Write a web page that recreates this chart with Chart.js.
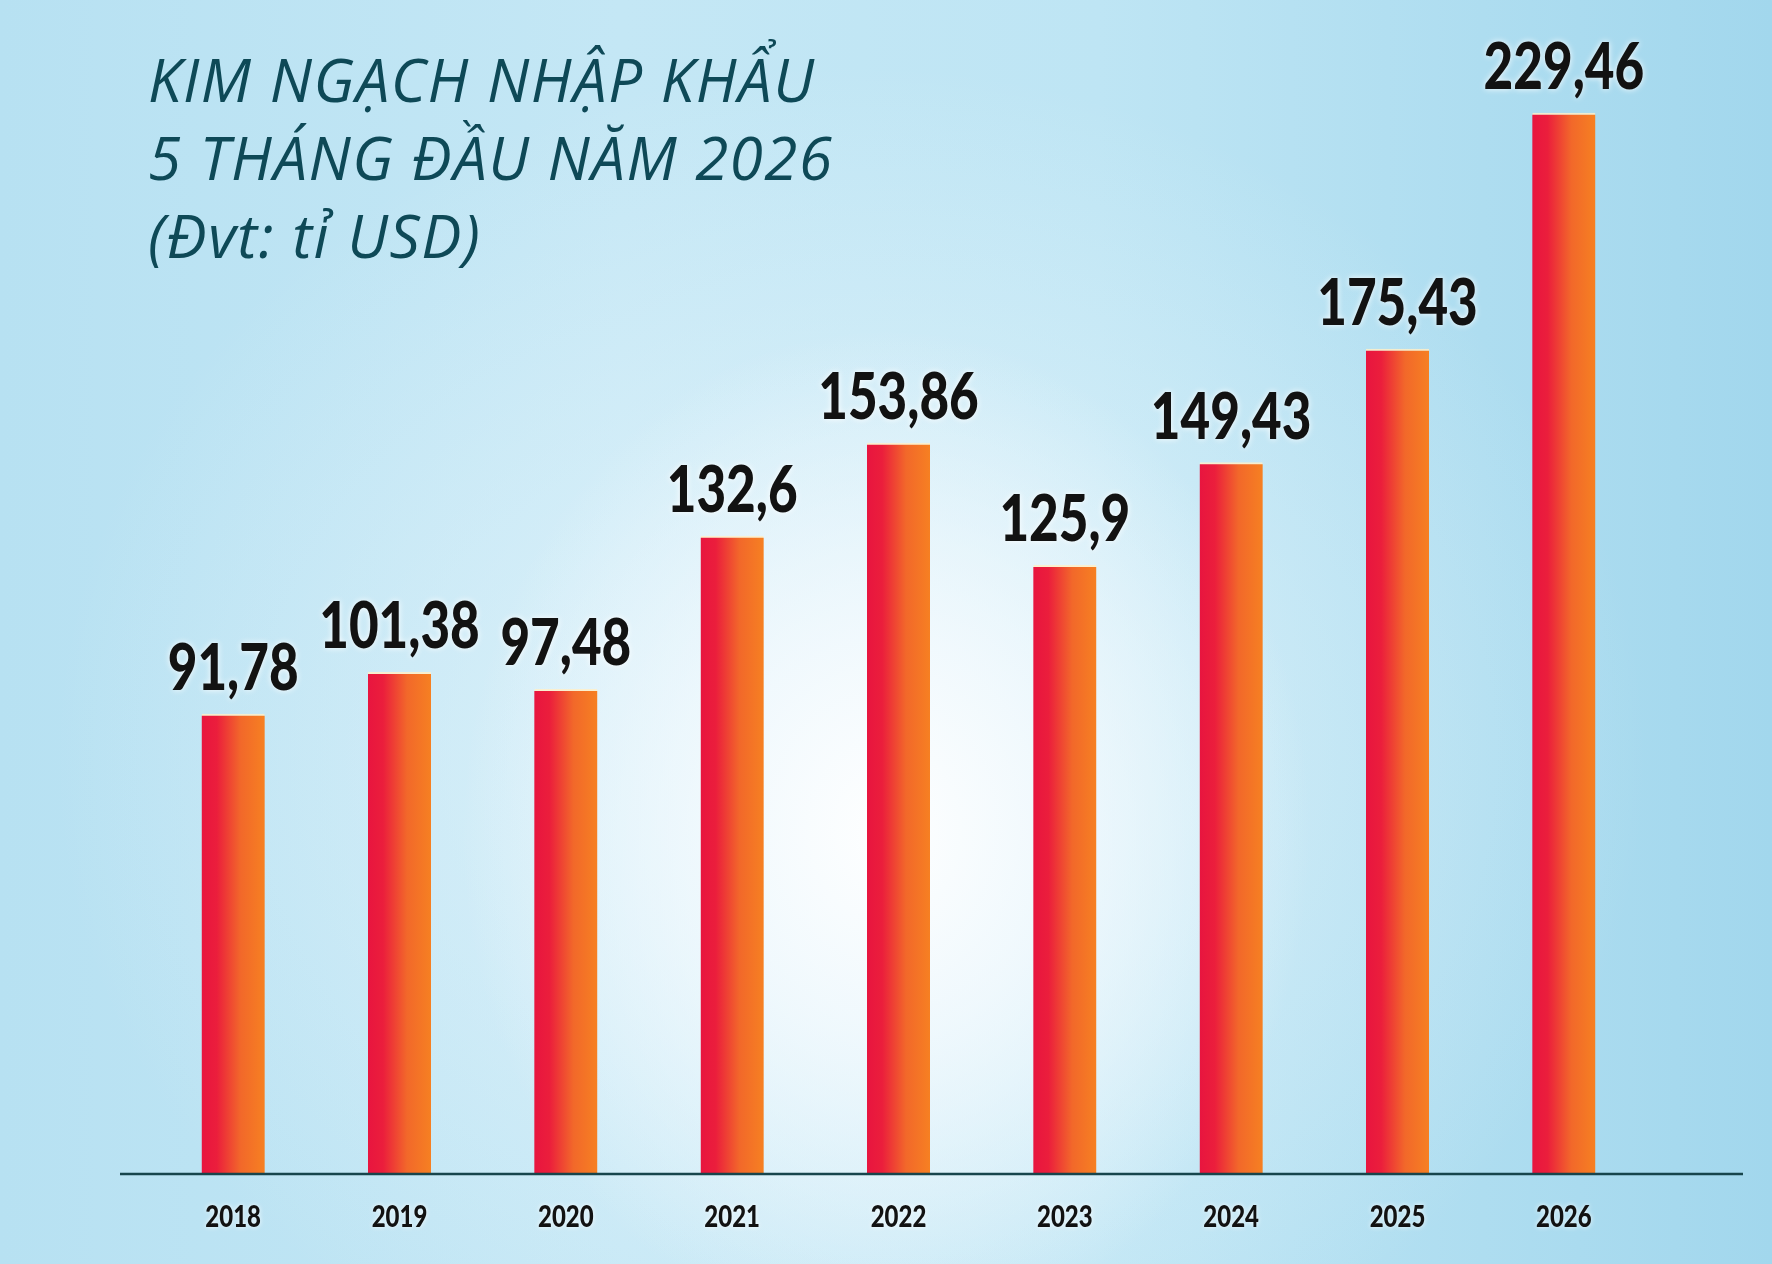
<!DOCTYPE html>
<html lang="vi">
<head>
<meta charset="utf-8">
<title>Kim ngạch nhập khẩu 5 tháng đầu năm 2026</title>
<script src="https://cdn.jsdelivr.net/npm/chart.js@4.4.1/dist/chart.umd.min.js"></script>
<style>
  html, body { margin: 0; padding: 0; overflow: hidden; }
  body {
    width: 1772px; height: 1264px; position: relative;
    background:
      radial-gradient(ellipse 24% 40% at 50% 66%, rgba(255,255,255,0.97) 0%, rgba(246,251,254,0.8) 40%, rgba(235,247,252,0) 100%),
      radial-gradient(ellipse 45% 55% at 48% 60%, rgba(232,246,252,0.8) 0%, rgba(232,246,252,0) 100%),
      linear-gradient(90deg, #b7e1f2 0%, #c4e7f5 35%, #bee5f4 62%, #a2d7ed 100%);
  }
  #wrap { position: absolute; left: 0; top: 0; width: 1772px; height: 1264px; }
  #title {
    position: absolute; left: 148px; top: 40px;
    font-family: "Open Sans", "Noto Sans", sans-serif; font-style: italic; font-weight: 400;
    font-size: 60px; line-height: 78px; letter-spacing: 1.5px; color: #0e4957; white-space: nowrap;
  }
</style>
</head>
<body>
<div id="wrap"><canvas id="c" width="1772" height="1264"></canvas></div>
<div id="title">KIM NGẠCH NHẬP KHẨU<br>5 THÁNG ĐẦU NĂM 2026<br>(Đvt: tỉ USD)</div>
<script>
// ---- Data ----
const categories = ['2018', '2019', '2020', '2021', '2022', '2023', '2024', '2025', '2026'];
const values = [91.78, 101.38, 97.48, 132.6, 153.86, 125.9, 149.43, 175.43, 229.46];
const valueLabels = ['91,78', '101,38', '97,48', '132,6', '153,86', '125,9', '149,43', '175,43', '229,46'];

// ---- Style / scale settings ----
const BASE_VALUE = -13.56;
const Y_MAX = 246;
const BAR_W = 63;
const NUM_FONT = 'Lato, "DejaVu Sans Condensed", sans-serif';
const SQUEEZE = 0.8;   // horizontal compression to imitate a condensed face

function barFill(ctx) {
  const chart = ctx.chart;
  const xs = chart.scales && chart.scales.x;
  if (!chart.chartArea || !xs) return '#ee4a30';
  const cx = xs.getPixelForValue(ctx.dataIndex);
  const g = chart.ctx.createLinearGradient(cx - BAR_W / 2, 0, cx + BAR_W / 2, 0);
  g.addColorStop(0, '#e8153f');
  g.addColorStop(0.24, '#eb1e3c');
  g.addColorStop(0.62, '#f2682a');
  g.addColorStop(1, '#f68022');
  return g;
}

function squeezedText(c, text, x, y) {
  c.save();
  c.translate(x, y);
  c.scale(SQUEEZE, 1);
  c.fillText(text, 0, 0);
  c.restore();
}

const valueLabelPlugin = {
  id: 'valueLabels',
  afterDatasetsDraw(chart) {
    const c = chart.ctx;
    const meta = chart.getDatasetMeta(0);
    c.save();
    c.font = '900 64px ' + NUM_FONT;
    c.textAlign = 'center';
    c.textBaseline = 'alphabetic';
    c.fillStyle = '#121212';
    c.shadowColor = 'rgba(255,255,255,0.95)';
    c.shadowBlur = 6;
    meta.data.forEach((el, i) => squeezedText(c, valueLabels[i], el.x, el.y - 24));
    c.restore();
  }
};

// category labels of the x scale, drawn condensed
const xLabelPlugin = {
  id: 'xLabels',
  afterDraw(chart) {
    const xs = chart.scales.x;
    const c = chart.ctx;
    c.save();
    c.font = '900 30px ' + NUM_FONT;
    c.textAlign = 'center';
    c.textBaseline = 'alphabetic';
    c.fillStyle = '#121212';
    c.shadowColor = 'rgba(255,255,255,0.9)';
    c.shadowBlur = 5;
    xs.ticks.forEach((t, i) => {
      squeezedText(c, xs.getLabelForValue(t.value), xs.getPixelForTick(i), xs.top + 53);
    });
    c.restore();
  }
};

const axisLinePlugin = {
  id: 'axisLine',
  afterDatasetsDraw(chart) {
    const c = chart.ctx;
    const y = chart.scales.y.getPixelForValue(BASE_VALUE);
    c.save();
    c.strokeStyle = '#17454c';
    c.lineWidth = 2.5;
    c.beginPath();
    c.moveTo(120, y);
    c.lineTo(1743, y);
    c.stroke();
    c.restore();
  }
};

new Chart(document.getElementById('c'), {
  type: 'bar',
  data: {
    labels: categories,
    datasets: [{
      data: values,
      base: BASE_VALUE,
      backgroundColor: barFill,
      borderColor: 'rgba(255,238,200,0.85)',
      borderWidth: { top: 2, left: 0, right: 0, bottom: 0 },
      barThickness: BAR_W
    }]
  },
  options: {
    responsive: false,
    devicePixelRatio: 1,
    animation: false,
    layout: { padding: { left: 150, right: 125, top: 41, bottom: 0 } },
    plugins: { legend: { display: false }, tooltip: { enabled: false }, title: { display: false } },
    scales: {
      y: { display: false, min: BASE_VALUE, max: Y_MAX },
      x: {
        grid: { display: false, drawTicks: false },
        border: { display: false },
        ticks: { display: false },
        afterFit(scale) { scale.height = 90; }
      }
    }
  },
  plugins: [valueLabelPlugin, xLabelPlugin, axisLinePlugin]
});
</script>
</body>
</html>
